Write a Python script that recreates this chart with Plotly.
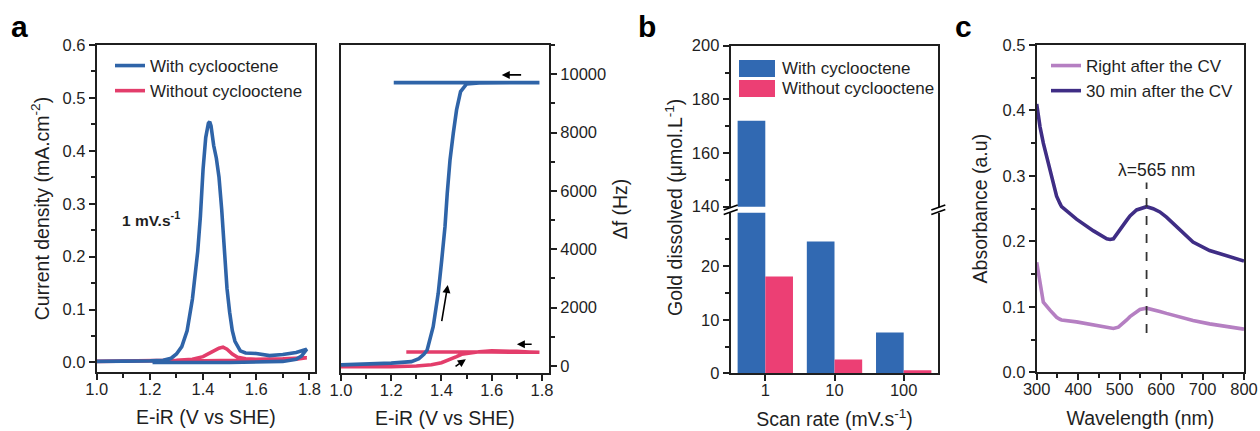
import plotly.graph_objects as go

W, H = 1260, 431
FONT = "Liberation Sans, Arial, sans-serif"
INK = "#1f1f1f"

# ---------------- Panel a (left): CV current density ----------------
cv_blue_x = [1.0, 1.1, 1.2, 1.25, 1.28, 1.30, 1.32, 1.34, 1.36, 1.38, 1.39, 1.40, 1.41, 1.42, 1.425,
             1.43, 1.44, 1.45, 1.46, 1.47, 1.48, 1.49, 1.50, 1.51, 1.52, 1.54, 1.56, 1.60, 1.65,
             1.70, 1.75, 1.79, 1.77, 1.75, 1.70, 1.50, 1.21]
cv_blue_y = [0.002, 0.002, 0.003, 0.004, 0.008, 0.016, 0.030, 0.060, 0.120, 0.210, 0.276, 0.365,
             0.425, 0.452, 0.455, 0.447, 0.410, 0.386, 0.350, 0.290, 0.200, 0.140, 0.095, 0.060,
             0.040, 0.022, 0.018, 0.017, 0.013, 0.015, 0.019, 0.025, 0.012, 0.006, 0.002, 0.000, 0.000]
cv_red_x = [1.0, 1.2, 1.3, 1.36, 1.40, 1.43, 1.46, 1.475, 1.49, 1.51, 1.53, 1.56, 1.60, 1.70, 1.79,
            1.75, 1.60, 1.40, 1.23]
cv_red_y = [0.002, 0.003, 0.004, 0.006, 0.011, 0.019, 0.027, 0.029, 0.025, 0.016, 0.010, 0.007,
            0.006, 0.007, 0.009, 0.006, 0.004, 0.003, 0.002]

# ---------------- Panel a (right): frequency change ----------------
qcm_blue_x = [1.0, 1.1, 1.2, 1.28, 1.31, 1.33, 1.343, 1.367, 1.387, 1.401, 1.414, 1.423, 1.434,
              1.447, 1.46, 1.476, 1.50, 1.55, 1.65, 1.79, 1.50, 1.21]
qcm_blue_y = [40, 60, 100, 150, 250, 400, 549, 1347, 2490, 3634, 4776, 5920, 7062, 7977, 8776,
              9403, 9667, 9700, 9710, 9710, 9710, 9710]
qcm_red_x = [1.0, 1.1, 1.2, 1.3, 1.36, 1.40, 1.43, 1.46, 1.48, 1.507, 1.55, 1.60, 1.65, 1.70,
             1.75, 1.79, 1.60, 1.40, 1.26]
qcm_red_y = [-20, -30, -20, 0, 40, 110, 200, 320, 400, 440, 490, 520, 520, 500, 480, 470, 480,
             480, 480]

# ---------------- Panel b: gold dissolved ----------------
scan_rates = ["1", "10", "100"]
gold_with = [172, 24.6, 7.6]
gold_without = [18.1, 2.6, 0.56]

# ---------------- Panel c: UV-vis ----------------
wl = [300, 308, 316, 332, 348, 356, 360, 396, 437, 469, 477, 485, 497, 501, 517, 525, 541, 549,
      565, 581, 597, 613, 637, 645, 677, 717, 757, 797, 800]
abs_30min = [0.410, 0.375, 0.350, 0.309, 0.269, 0.258, 0.253, 0.234, 0.216, 0.204, 0.203, 0.204,
             0.213, 0.218, 0.232, 0.239, 0.248, 0.250, 0.253, 0.250, 0.245, 0.237, 0.223, 0.217,
             0.199, 0.186, 0.178, 0.170, 0.170]
abs_right = [0.168, 0.133, 0.107, 0.095, 0.084, 0.081, 0.080, 0.077, 0.072, 0.068, 0.067, 0.067,
             0.069, 0.071, 0.080, 0.085, 0.093, 0.096, 0.098, 0.096, 0.093, 0.090, 0.086, 0.084,
             0.079, 0.074, 0.070, 0.066, 0.066]
peak_wl = [565, 565]
peak_line_y = [0.06, 0.29]

BLUE_LINE = "#2f64a8"
RED_LINE = "#e33d6b"
BLUE_BAR = "#3169b2"
RED_BAR = "#ec3f74"
LIGHT_PURPLE = "#b57fc2"
DARK_PURPLE = "#3f2d85"
LW = 3.6


def px_x(a, b):
    return [a / W, b / W]


def px_y(top, bottom):
    return [1 - bottom / H, 1 - top / H]


fig = go.Figure()

# panel a left
fig.add_trace(go.Scatter(x=cv_red_x, y=cv_red_y, mode="lines", line=dict(color=RED_LINE, width=LW),
                         name="Without cyclooctene", xaxis="x", yaxis="y", legend="legend",
                         legendrank=2))
fig.add_trace(go.Scatter(x=cv_blue_x, y=cv_blue_y, mode="lines", line=dict(color=BLUE_LINE, width=LW),
                         name="With cyclooctene", xaxis="x", yaxis="y", legend="legend",
                         legendrank=1))
# panel a right
fig.add_trace(go.Scatter(x=qcm_red_x, y=qcm_red_y, mode="lines", line=dict(color=RED_LINE, width=LW),
                         showlegend=False, xaxis="x2", yaxis="y2"))
fig.add_trace(go.Scatter(x=qcm_blue_x, y=qcm_blue_y, mode="lines", line=dict(color=BLUE_LINE, width=LW),
                         showlegend=False, xaxis="x2", yaxis="y2"))
# panel b bottom & top segments
for xa, ya in (("x3", "y3"), ("x4", "y4")):
    fig.add_trace(go.Bar(x=scan_rates, y=gold_with, marker=dict(color=BLUE_BAR, line=dict(width=0)),
                         showlegend=False, xaxis=xa, yaxis=ya))
    fig.add_trace(go.Bar(x=scan_rates, y=gold_without, marker=dict(color=RED_BAR, line=dict(width=0)),
                         showlegend=False, xaxis=xa, yaxis=ya))
# panel c
fig.add_trace(go.Scatter(x=wl, y=abs_right, mode="lines", line=dict(color=LIGHT_PURPLE, width=LW),
                         name="Right after the CV", xaxis="x5", yaxis="y5", legend="legend2"))
fig.add_trace(go.Scatter(x=wl, y=abs_30min, mode="lines", line=dict(color=DARK_PURPLE, width=LW),
                         name="30 min after the CV", xaxis="x5", yaxis="y5", legend="legend2"))
fig.add_trace(go.Scatter(x=peak_wl, y=peak_line_y, mode="lines",
                         line=dict(color="#333333", width=1.8, dash="dash"),
                         showlegend=False, xaxis="x5", yaxis="y5"))

tickfont = dict(family=FONT, size=16.5, color=INK)
titlefont = dict(family=FONT, size=19.5, color=INK)
legfont = dict(family=FONT, size=17, color=INK)
common = dict(showline=True, linecolor=INK, linewidth=2, ticks="outside", ticklen=6,
              tickwidth=1.6, tickcolor=INK, tickfont=tickfont, showgrid=False, zeroline=False,
              automargin=False)
minor = dict(ticks="outside", ticklen=3.5, tickwidth=1.6, tickcolor=INK, showgrid=False)
XT = 14
XLS = -5

layout = dict(
    width=W, height=H, margin=dict(l=0, r=0, t=0, b=0),
    paper_bgcolor="white", plot_bgcolor="white", font=dict(family=FONT, color=INK),
    barmode="group", bargap=0.2, bargroupgap=0,
    # panel a left
    xaxis=dict(domain=px_x(96.7, 315), range=[1.0, 1.821], dtick=0.2, tick0=1.0, tickformat=".1f",
               mirror=True, minor=dict(dtick=0.1, **minor), ticklabelstandoff=XLS,
               title=dict(text="E-iR (V vs SHE)", font=titlefont, standoff=XT), anchor="y", **common),
    yaxis=dict(domain=px_y(45, 372), range=[-0.018, 0.6], dtick=0.1, tickformat=".1f", mirror=True,
               minor=dict(dtick=0.05, **minor),
               title=dict(text="Current density (mA.cm<sup>-2</sup>)", font=titlefont, standoff=8),
               anchor="x", **common),
    # panel a right
    xaxis2=dict(domain=px_x(341, 549), range=[1.0, 1.828], dtick=0.2, tick0=1.0, tickformat=".1f",
                mirror=True, minor=dict(dtick=0.1, **minor), ticklabelstandoff=XLS,
                title=dict(text="E-iR (V vs SHE)", font=titlefont, standoff=XT), anchor="y2", **common),
    yaxis2=dict(domain=px_y(45, 373), range=[-240, 11000], dtick=2000, tickformat="d", side="right",
                mirror=True, minor=dict(dtick=1000, **minor),
                title=dict(text="Δf (Hz)", font=titlefont, standoff=8), anchor="x2", **common),
    # panel b bottom
    xaxis3=dict(domain=px_x(730.7, 938.3), range=[-0.5, 2.5], type="category", anchor="y3",
                ticklabelstandoff=XLS,
                title=dict(text="Scan rate (mV.s<sup>-1</sup>)", font=titlefont, standoff=XT), **common),
    yaxis3=dict(domain=px_y(212.7, 373.3), range=[0, 30], tickvals=[0, 10, 20], mirror=True,
                minor=dict(tickvals=[5, 15, 25], **minor), anchor="x3", **common),
    # panel b top
    xaxis4=dict(domain=px_x(730.7, 938.3), range=[-0.5, 2.5], type="category", anchor="y4",
                side="top", showline=True, linecolor=INK, linewidth=2, ticks="",
                showticklabels=False, showgrid=False, zeroline=False, automargin=False),
    yaxis4=dict(domain=px_y(45.7, 206.7), range=[140, 200], tickvals=[140, 160, 180, 200], mirror=True,
                minor=dict(tickvals=[150, 170, 190], **minor), anchor="x4", **common),
    # panel c
    xaxis5=dict(domain=px_x(1036.7, 1244), range=[300, 800], dtick=100, mirror=True,
                minor=dict(dtick=50, **minor), anchor="y5", ticklabelstandoff=XLS,
                title=dict(text="Wavelength (nm)", font=titlefont, standoff=XT), **common),
    yaxis5=dict(domain=px_y(45, 372.3), range=[0, 0.5], dtick=0.1, tickformat=".1f", mirror=True,
                minor=dict(dtick=0.05, **minor), anchor="x5",
                title=dict(text="Absorbance (a.u)", font=titlefont, standoff=10), **common),
    legend=dict(x=110 / W, y=1 - 48 / H, xanchor="left", yanchor="top", bgcolor="rgba(0,0,0,0)",
                font=legfont, tracegroupgap=0, borderwidth=0, traceorder="normal"),
    legend2=dict(x=1046 / W, y=1 - 48 / H, xanchor="left", yanchor="top", bgcolor="rgba(0,0,0,0)",
                 font=legfont, tracegroupgap=0, borderwidth=0),
)
fig.update_layout(**layout)

ann = []
# panel letters
for letter, x in (("a", 9), ("b", 636), ("c", 953)):
    ann.append(dict(text=f"<b>{letter}</b>", x=x / W, y=1 - 8 / H, xref="paper", yref="paper",
                    xanchor="left", yanchor="top", showarrow=False,
                    font=dict(family=FONT, size=30, color="black")))
ann.append(dict(text="<b>1 mV.s<sup>-1</sup></b>", x=1.088, y=0.272, xref="x", yref="y",
                xanchor="left", yanchor="middle", showarrow=False,
                font=dict(family=FONT, size=15.5, color=INK)))
# arrows in panel a right
for (x0, y0, x1, y1) in ((1.723, 9975, 1.64, 9975), (1.40, 1484, 1.425, 2777),
                         (1.765, 744, 1.70, 744), (1.45, -45, 1.497, 230)):
    ann.append(dict(x=x1, y=y1, ax=x0, ay=y0, xref="x2", yref="y2", axref="x2", ayref="y2",
                    showarrow=True, arrowhead=2, arrowsize=1, arrowwidth=1.6, arrowcolor="black",
                    text=""))
# panel b y title
ann.append(dict(text="Gold dissolved (μmol.L<sup>-1</sup>)", x=674 / W, y=1 - 208 / H,
                xref="paper", yref="paper", textangle=-90, showarrow=False,
                font=titlefont, xanchor="center", yanchor="middle"))
# panel b legend (manual)
for i, (lab, col) in enumerate((("With cyclooctene", BLUE_BAR), ("Without cyclooctene", RED_BAR))):
    y_top = 60 + i * 20
    fig.add_shape(type="rect", xref="paper", yref="paper", x0=739 / W, x1=775 / W,
                  y0=1 - (y_top + 17) / H, y1=1 - y_top / H, fillcolor=col, line=dict(width=0))
    ann.append(dict(text=lab, x=780 / W, y=1 - (y_top + 8.5) / H, xref="paper", yref="paper",
                    xanchor="left", yanchor="middle", showarrow=False, font=legfont))
# panel c peak label
ann.append(dict(text="λ=565 nm", x=589, y=0.309, xref="x5", yref="y5", showarrow=False,
                font=dict(family=FONT, size=17.5, color=INK)))
fig.update_layout(annotations=ann)

# axis break marks in panel b
for xs in (730.7, 938.3):
    for yc in (207.5, 212.0):
        fig.add_shape(type="line", xref="paper", yref="paper",
                      x0=(xs - 7) / W, y0=1 - (yc + 2.5) / H, x1=(xs + 7) / W, y1=1 - (yc - 2.5) / H,
                      line=dict(color="black", width=1.6))

fig.write_html("out.html", config={"displayModeBar": False},
               post_script="document.body.style.margin='0px';"
                           "document.body.style.overflow='hidden';")
